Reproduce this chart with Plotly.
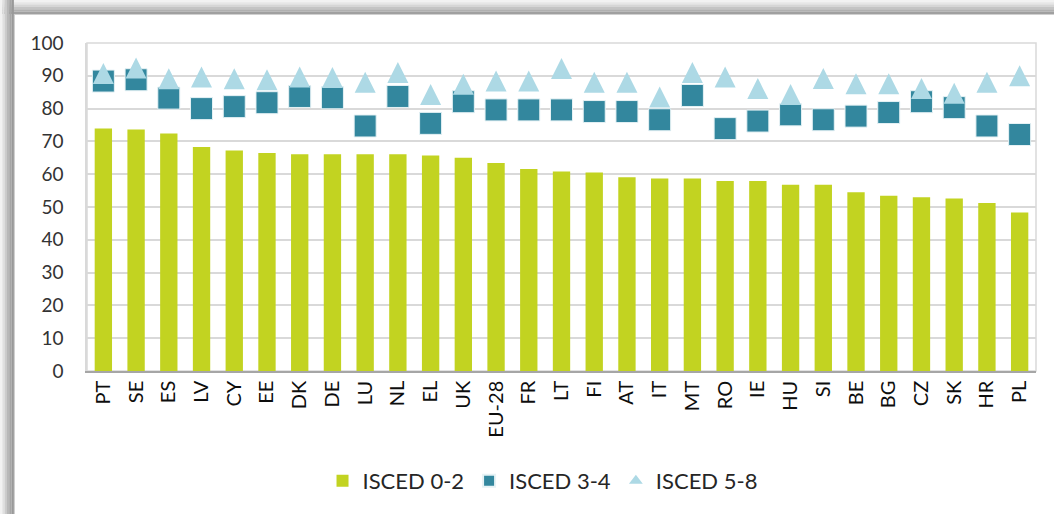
import plotly.graph_objects as go

categories = ["PT", "SE", "ES", "LV", "CY", "EE", "DK", "DE", "LU", "NL", "EL", "UK", "EU-28", "FR", "LT",
              "FI", "AT", "IT", "MT", "RO", "IE", "HU", "SI", "BE", "BG", "CZ", "SK", "HR", "PL"]
isced_0_2 = [73.9, 73.6, 72.4, 68.3, 67.2, 66.5, 66.1, 66.1, 66.1, 66.1, 65.7, 65.0, 63.4, 61.6, 60.8,
             60.5, 59.1, 58.7, 58.7, 57.9, 57.9, 56.8, 56.8, 54.5, 53.4, 53.0, 52.6, 51.2, 48.3]
isced_3_4 = [88.4, 88.8, 83.2, 80.0, 80.6, 81.8, 83.7, 83.3, 74.7, 83.7, 75.5, 82.1, 79.6, 79.6, 79.6,
             79.1, 79.1, 76.6, 84.0, 73.9, 76.2, 78.1, 76.6, 77.7, 78.8, 82.1, 80.3, 74.7, 72.1]
isced_5_8 = [90.7, 92.4, 89.1, 89.6, 89.1, 88.8, 89.6, 89.5, 88.0, 91.0, 84.3, 87.4, 88.4, 88.4, 92.2,
             88.0, 88.0, 83.5, 91.0, 89.6, 86.1, 84.3, 89.2, 87.6, 87.6, 86.1, 84.7, 88.0, 90.0]
y_ticks = [0, 10, 20, 30, 40, 50, 60, 70, 80, 90, 100]

W, H = 1054, 514
L, R, T, B = 87, 18, 43, 143
PW, PH = W - L - R, H - T - B


def px(x):
    return (x - L) / PW


def py(y):
    return (H - B - y) / PH


FONT = "Lato"
TRI = 21  # triangle marker size (px)

fig = go.Figure()
fig.add_trace(go.Bar(x=categories, y=isced_0_2, name="ISCED 0-2",
                     marker=dict(color="#C2D321", line=dict(width=0)), width=0.53))
fig.add_trace(go.Scatter(x=categories, y=isced_3_4, name="ISCED 3-4", mode="markers",
                         marker=dict(symbol="square", size=22, color="#33879E",
                                     line=dict(color="#E6F2F5", width=1))))
# upward triangle centred on the value (arrow shape rotated, standoff = half size)
fig.add_trace(go.Scatter(x=categories, y=isced_5_8, name="ISCED 5-8", mode="markers", showlegend=False,
                         marker=dict(symbol="arrow-down", angle=180, standoff=TRI / 2, size=TRI,
                                     color="#ADD9E5", line=dict(width=0))))
# legend entry for the triangles
fig.add_trace(go.Scatter(x=[None], y=[None], name="ISCED 5-8", mode="markers",
                         marker=dict(symbol="triangle-up", size=12, color="#ADD9E5", line=dict(width=0))))

shapes = []
# outer frame shadow (top and left)
top_cols = ["#F2F2F2", "#E6E6E6", "#D6D6D6", "#C4C4C4", "#B0B0B0", "#A0A0A0"]
for i, c in enumerate(top_cols):
    y0 = i * 2.3
    shapes.append(dict(type="rect", xref="paper", yref="paper", x0=px(0), x1=px(W), y0=py(y0), y1=py(y0 + 2.4),
                       fillcolor=c, line=dict(width=0), layer="below"))
left_cols = ["#F2F2F2", "#E0E0E0", "#CCCCCC", "#B8B8B8", "#A6A6A6", "#999999"]
for i, c in enumerate(left_cols):
    x0 = i * 2.3
    shapes.append(dict(type="rect", xref="paper", yref="paper", x0=px(x0), x1=px(x0 + 2.4), y0=py(0), y1=py(H),
                       fillcolor=c, line=dict(width=0), layer="below"))
shapes.append(dict(type="line", xref="paper", yref="paper", x0=px(14), x1=px(W), y0=py(14.5), y1=py(14.5),
                   line=dict(color="#D0D0D0", width=1), layer="below"))
shapes.append(dict(type="line", xref="paper", yref="paper", x0=px(14.5), x1=px(14.5), y0=py(14), y1=py(H),
                   line=dict(color="#D0D0D0", width=1), layer="below"))
# plot area border
shapes.append(dict(type="rect", xref="paper", yref="paper", x0=0, x1=1, y0=0, y1=1,
                   line=dict(color="#D9D9D9", width=1.5), layer="below"))

fig.update_layout(
    width=W, height=H,
    margin=dict(l=L, r=R, t=T, b=B, autoexpand=False),
    paper_bgcolor="white", plot_bgcolor="white",
    font=dict(family=FONT, color="#262626"),
    showlegend=True,
    hovermode=False,
    legend=dict(orientation="h", x=0.48, xanchor="center", y=py(481), yanchor="middle",
                font=dict(family=FONT, size=22, color="#262626"), itemwidth=30, itemsizing="constant",
                traceorder="normal", tracegroupgap=0),
    bargap=0.47,
    shapes=shapes,
    xaxis=dict(type="category", categoryorder="array", categoryarray=categories,
               range=[-0.5, len(categories) - 0.5], autorange=False,
               tickangle=-90, tickfont=dict(family=FONT, size=20, color="#0D0D0D"),
               showline=True, linecolor="#A6A6A6", linewidth=1.5, ticks="", showgrid=False,
               ticklabelstandoff=0),
    yaxis=dict(range=[0, 100], tickvals=y_ticks, tickfont=dict(family=FONT, size=19, color="#333333"),
               showgrid=True, gridcolor="#D9D9D9", gridwidth=1.5, zeroline=False,
               showline=True, linecolor="#D9D9D9", linewidth=1.5, ticks="", ticklabelstandoff=18),
)

fig.write_html("out.html", config={"displayModeBar": False},
               post_script="document.body.style.margin='0px';")
